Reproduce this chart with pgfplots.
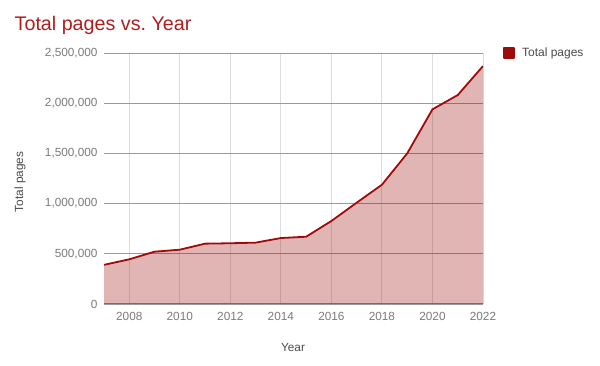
\documentclass[border=0pt]{standalone}
\usepackage{fontspec}
\setmainfont{Liberation Sans}
\usepackage{pgfplots}
\pgfplotsset{compat=1.18}
\definecolor{ser}{HTML}{9E0B0B}
\definecolor{titlered}{HTML}{AE1E1E}
\definecolor{tickgray}{HTML}{7A7A7A}
\definecolor{labgray}{HTML}{4A4A4A}
\definecolor{vgrid}{HTML}{DDDDDD}
\definecolor{hgrid}{HTML}{9A9A9A}
\definecolor{basegray}{HTML}{6E6E6E}
\pgfplotstableread{
year pages
2007 390000
2008 445000
2009 521000
2010 541000
2011 601000
2012 605000
2013 611000
2014 657000
2015 670000
2016 827000
2017 1009000
2018 1188000
2019 1500000
2020 1939000
2021 2081000
2022 2370000
}\datatable
\begin{document}
\frenchspacing
\begin{tikzpicture}[x=1pt,y=1pt]
\path[use as bounding box] (0,0) rectangle (600,366);
\node[anchor=base west, text=titlered, font=\fontsize{19.7}{23}\selectfont, inner sep=0] at (14.5,335.5) {Total pages vs.\ Year};
\begin{axis}[
  at={(104pt,62pt)}, anchor=south west, scale only axis,
  width=379pt, height=251pt,
  xmin=2007, xmax=2022, ymin=0, ymax=2500000,
  axis line style={draw=none}, tick style={draw=none},
  xtick={2008,2010,2012,2014,2016,2018,2020,2022},
  xticklabels={2008,2010,2012,2014,2016,2018,2020,2022},
  ytick={0,500000,1000000,1500000,2000000,2500000},
  scaled y ticks=false,
  yticklabel={\pgfmathprintnumber[fixed,precision=0,1000 sep={,}]{\tick}},
  /pgf/number format/assume math mode=true,
  grid=major,
  x grid style={color=vgrid, line width=0.9pt},
  y grid style={color=hgrid, line width=0.9pt},
  tick label style={font=\fontsize{11.8}{14}\selectfont, text=tickgray},
  xticklabel style={yshift=-5pt},
  yticklabel style={xshift=-3pt},
  legend style={at={(rel axis cs:1.053,1.0)}, anchor=west, draw=none, fill=none,
    inner sep=0pt, font=\fontsize{12}{14}\selectfont, text=labgray},
  legend image code/.code={\fill[ser, fill opacity=1, draw opacity=1] (0pt,-5pt) rectangle (10pt,5pt); \path (15pt,0pt);},
]
\addplot[draw=none, fill=ser, fill opacity=0.3, forget plot] table[x=year,y=pages] {\datatable} \closedcycle;
\draw[basegray, line width=1pt] (axis cs:2007,0) -- (axis cs:2022,0);
\addplot[draw=ser, line width=1.8pt, line join=round, mark=none] table[x=year,y=pages] {\datatable};
\addlegendentry{Total pages}
\end{axis}
\node[font=\fontsize{11.8}{14}\selectfont, text=labgray] at (293,18) {Year};
\node[font=\fontsize{11.8}{14}\selectfont, text=labgray, rotate=90] at (20,184) {Total pages};
\end{tikzpicture}
\end{document}
